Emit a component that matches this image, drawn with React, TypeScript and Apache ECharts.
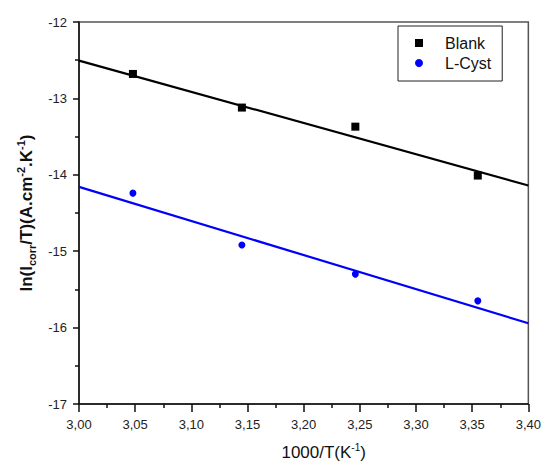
import React, { useEffect, useRef } from "react";
import * as echarts from "echarts";

const blankX = [3.048, 3.145, 3.246, 3.355];
const blankY = [-12.68, -13.12, -13.37, -14.01];
const cystX = [3.048, 3.145, 3.246, 3.355];
const cystY = [-14.24, -14.92, -15.3, -15.65];
const blankFitX = [3.0, 3.4];
const blankFitY = [-12.505, -14.14];
const cystFitX = [3.0, 3.4];
const cystFitY = [-14.158, -15.943];
const seriesNames = ["Blank", "L-Cyst"];
const xRange = [3.0, 3.4];
const yRange = [-17, -12];

const FONT = "'Liberation Sans', Arial, sans-serif";

export default function App() {
  const ref = useRef<HTMLDivElement>(null);
  useEffect(() => {
    if (!ref.current) return;
    const chart = echarts.init(ref.current, undefined, { renderer: "svg" });
    const zip = (xs: number[], ys: number[]) => xs.map((x, i) => [x, ys[i]]);
    chart.setOption({
      animation: false,
      backgroundColor: "#ffffff",
      grid: {
        left: 79,
        top: 22,
        right: 12,
        bottom: 62,
        show: true,
        borderColor: "#555",
        borderWidth: 1.5,
        backgroundColor: "transparent",
      },
      legend: {
        data: seriesNames,
        orient: "vertical",
        left: 398,
        top: 26,
        itemWidth: 8,
        itemHeight: 8,
        itemGap: 4,
        padding: [9, 11, 10, 17],
        borderColor: "#222",
        borderWidth: 1,
        textStyle: {
          fontFamily: FONT,
          fontSize: 16,
          lineHeight: 16,
          color: "#111",
          padding: [0, 0, 0, 17],
        },
      },
      xAxis: {
        type: "value",
        min: xRange[0],
        max: xRange[1],
        interval: 0.05,
        name: "{n|1000/T(K}{sup|-1}{n|)}",
        nameLocation: "middle",
        nameGap: 38,
        nameTextStyle: {
          padding: [0, 0, 0, 40],
          rich: {
            n: { fontFamily: FONT, fontSize: 17, color: "#111", lineHeight: 20 },
            sup: { fontFamily: FONT, fontSize: 10, color: "#111", lineHeight: 10, verticalAlign: "top" },
          },
        },
        axisLine: { lineStyle: { color: "#111", width: 1.5 } },
        axisTick: { show: true, inside: false, length: 8, lineStyle: { color: "#111", width: 1.5 } },
        minorTick: { show: true, splitNumber: 2, length: 4, lineStyle: { color: "#111", width: 1.5 } },
        splitLine: { show: false },
        axisLabel: {
          margin: 14,
          fontFamily: FONT,
          fontSize: 13,
          color: "#222",
          formatter: (v: number) => v.toFixed(2).replace(".", ","),
        },
      },
      yAxis: {
        type: "value",
        min: yRange[0],
        max: yRange[1],
        interval: 1,
        name: "{b|ln(I}{sub|corr}{b|/T)(A.cm}{sup|-2}{b|.K}{sup|-1}{b|)}",
        nameLocation: "middle",
        nameRotate: 90,
        nameGap: 31,
        nameTextStyle: {
          rich: {
            b: { fontFamily: FONT, fontSize: 17, fontWeight: "bold", color: "#111", lineHeight: 22 },
            sub: { fontFamily: FONT, fontSize: 11, fontWeight: "bold", color: "#111", lineHeight: 11, verticalAlign: "bottom" },
            sup: { fontFamily: FONT, fontSize: 11, fontWeight: "bold", color: "#111", lineHeight: 11, verticalAlign: "top" },
          },
        },
        axisLine: { show: true, lineStyle: { color: "#111", width: 1.5 } },
        axisTick: { show: true, inside: false, length: 6, lineStyle: { color: "#111", width: 1.5 } },
        minorTick: { show: true, splitNumber: 2, length: 4, lineStyle: { color: "#111", width: 1.5 } },
        splitLine: { show: false },
        axisLabel: {
          margin: 12,
          fontFamily: FONT,
          fontSize: 13,
          color: "#222",
        },
      },
      series: [
        {
          name: "Blank fit",
          type: "line",
          data: zip(blankFitX, blankFitY),
          showSymbol: false,
          lineStyle: { color: "#000", width: 2.2 },
          itemStyle: { color: "#000" },
          z: 2,
        },
        {
          name: "L-Cyst fit",
          type: "line",
          data: zip(cystFitX, cystFitY),
          showSymbol: false,
          lineStyle: { color: "#0000ff", width: 2.2 },
          itemStyle: { color: "#0000ff" },
          z: 2,
        },
        {
          name: "Blank",
          type: "scatter",
          symbol: "rect",
          symbolSize: 8,
          data: zip(blankX, blankY),
          itemStyle: { color: "#000", opacity: 1 },
          z: 3,
        },
        {
          name: "L-Cyst",
          type: "scatter",
          symbol: "circle",
          symbolSize: 7,
          data: zip(cystX, cystY),
          itemStyle: { color: "#0000ff", opacity: 1 },
          z: 3,
        },
      ],
    });
    return () => chart.dispose();
  }, []);
  return (
    <div
      ref={ref}
      style={{ position: "absolute", left: 0, top: 0, width: 544, height: 466, background: "#fff" }}
    />
  );
}
